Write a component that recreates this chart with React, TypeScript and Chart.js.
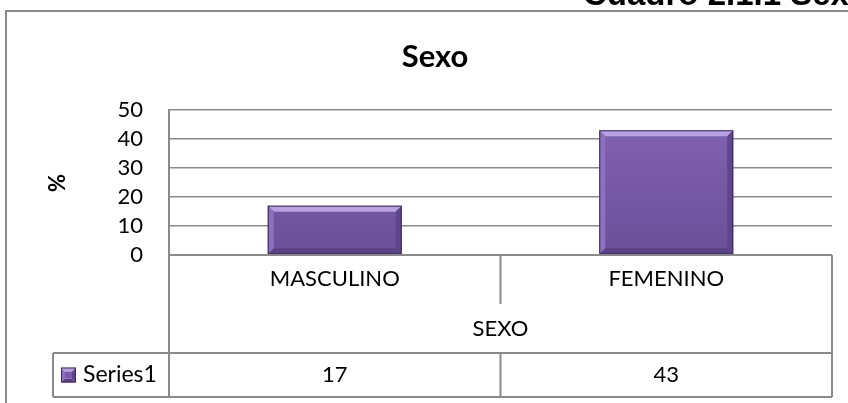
import React, { useEffect, useRef } from "react";
import { Chart, registerables } from "chart.js";

Chart.register(...registerables);

// ---- data ----
const categories = ["MASCULINO", "FEMENINO"];
const seriesName = "Series1";
const seriesValues = [17, 43];
const groupLabel = "SEXO";
const chartTitle = "Sexo";
const pageHeading = "Cuadro 2.1.1 Sexo";
const yAxisTitle = "%";
const yTickMin = 0;
const yTickMax = 50;
const yTickStep = 10;

// ---- styles ----
const FONT = "Lato, 'Open Sans', sans-serif";
const HEAD_FONT = "'Liberation Sans', Arial, sans-serif";
const LINE = "#8a8a8a";
const TEXT = "#000000";

function bevelRect(ctx: CanvasRenderingContext2D, l: number, t: number, r: number, b: number, d: number) {
  const poly = (pts: number[][], color: string) => {
    ctx.beginPath();
    ctx.moveTo(pts[0][0], pts[0][1]);
    for (let i = 1; i < pts.length; i++) ctx.lineTo(pts[i][0], pts[i][1]);
    ctx.closePath();
    ctx.fillStyle = color;
    ctx.fill();
  };
  const dd = Math.min(d, (r - l) / 2, (b - t) / 2);
  poly([[l, t], [r, t], [r - dd, t + dd], [l + dd, t + dd]], "#b9a2e4");
  poly([[l, t], [l + dd, t + dd], [l + dd, b - dd], [l, b]], "#8e70c0");
  poly([[r, t], [r, b], [r - dd, b - dd], [r - dd, t + dd]], "#5f468c");
  poly([[l, b], [l + dd, b - dd], [r - dd, b - dd], [r, b]], "#5a4284");
  ctx.strokeStyle = "#3e2b5e";
  ctx.lineWidth = 1;
  ctx.strokeRect(l + 0.5, t + 0.5, r - l - 1, b - t - 1);
}

const decorPlugin = {
  id: "decor",
  beforeDraw(chart: any) {
    const ctx: CanvasRenderingContext2D = chart.ctx;
    ctx.save();
    ctx.fillStyle = "#ffffff";
    ctx.fillRect(0, 0, chart.width, chart.height);
    // outer chart frame
    ctx.strokeStyle = LINE;
    ctx.lineWidth = 2;
    ctx.strokeRect(6, 11, chart.width + 40, chart.height + 40);
    // page heading (cut off at top)
    ctx.fillStyle = TEXT;
    ctx.font = `bold 33px ${HEAD_FONT}`;
    ctx.textAlign = "left";
    ctx.textBaseline = "alphabetic";
    ctx.fillText(pageHeading, 583, 5);
    // chart title
    ctx.font = `bold 31px ${FONT}`;
    ctx.textAlign = "center";
    ctx.textBaseline = "middle";
    ctx.fillText(chartTitle, 435, 57);
    // y axis title
    ctx.save();
    ctx.translate(58, 183);
    ctx.rotate(-Math.PI / 2);
    ctx.font = `bold 22px ${FONT}`;
    ctx.fillText(yAxisTitle, 0, 0);
    ctx.restore();
    ctx.restore();
  },
  afterDatasetsDraw(chart: any) {
    const ctx: CanvasRenderingContext2D = chart.ctx;
    const meta = chart.getDatasetMeta(0);
    ctx.save();
    meta.data.forEach((bar: any) => {
      const p = bar.getProps(["x", "y", "base", "width"], true);
      const l = p.x - p.width / 2;
      const r = p.x + p.width / 2;
      bevelRect(ctx, l, p.y, r, p.base, 6);
    });
    ctx.restore();
  },
  afterDraw(chart: any) {
    const ctx: CanvasRenderingContext2D = chart.ctx;
    const { left, right, bottom } = chart.chartArea;
    const xs = chart.scales.x;
    const n = categories.length;
    const catW = (right - left) / n;
    const labelY = bottom + 24;
    const dividerEnd = bottom + 49;
    const groupY = bottom + 74;
    const sepY = bottom + 98;
    const tableBottom = bottom + 142;
    const legendLeft = 53;
    const valueY = (sepY + tableBottom) / 2;

    ctx.save();
    ctx.strokeStyle = LINE;
    ctx.lineWidth = 2;
    const line = (x1: number, y1: number, x2: number, y2: number) => {
      ctx.beginPath();
      ctx.moveTo(x1, y1);
      ctx.lineTo(x2, y2);
      ctx.stroke();
    };
    line(left, bottom, right, bottom);
    line(left, bottom, left, tableBottom);
    line(right, bottom, right, tableBottom);
    for (let i = 1; i < n; i++) {
      const bx = left + i * catW;
      line(bx, bottom, bx, dividerEnd);
      line(bx, sepY, bx, tableBottom);
    }
    line(legendLeft, sepY, right, sepY);
    line(legendLeft, tableBottom, right, tableBottom);
    line(legendLeft, sepY, legendLeft, tableBottom);

    ctx.fillStyle = TEXT;
    ctx.font = `22px ${FONT}`;
    ctx.textAlign = "center";
    ctx.textBaseline = "middle";
    categories.forEach((c, i) => {
      const cx = xs.getPixelForValue(i);
      ctx.fillText(c, cx, labelY);
      ctx.fillText(String(seriesValues[i]), cx, valueY);
    });
    ctx.fillText(groupLabel, (left + right) / 2, groupY);

    // legend key + series name
    const ks = 15;
    const kx = legendLeft + 8;
    const ky = valueY - ks / 2;
    bevelRect(ctx, kx, ky, kx + ks, ky + ks, 4);
    ctx.fillStyle = "#7a5ba8";
    ctx.fillRect(kx + 4, ky + 4, ks - 8, ks - 8);
    ctx.fillStyle = TEXT;
    ctx.textAlign = "left";
    ctx.font = `23px ${FONT}`;
    ctx.fillText(seriesName, kx + ks + 7, valueY);
    ctx.restore();
  },
};

export default function App() {
  const canvasRef = useRef<HTMLCanvasElement | null>(null);

  useEffect(() => {
    const canvas = canvasRef.current;
    if (!canvas) return;
    const chart = new Chart(canvas, {
      type: "bar",
      data: {
        labels: categories,
        datasets: [
          {
            label: seriesName,
            data: seriesValues,
            backgroundColor: (c: any) => {
              const area = c.chart.chartArea;
              if (!area) return "#7a5ba8";
              const g = c.chart.ctx.createLinearGradient(0, area.top, 0, area.bottom);
              g.addColorStop(0, "#8364b3");
              g.addColorStop(1, "#6b4f98");
              return g;
            },
            borderWidth: 0,
            categoryPercentage: 1,
            barPercentage: 0.404,
          },
        ],
      },
      options: {
        responsive: false,
        animation: false,
        devicePixelRatio: 1,
        layout: { padding: { left: 0, top: 110, right: 16, bottom: 148 } },
        plugins: {
          legend: { display: false },
          title: { display: false },
          tooltip: { enabled: false },
        },
        scales: {
          x: { display: false },
          y: {
            position: "left",
            min: yTickMin,
            max: yTickMax,
            ticks: {
              stepSize: yTickStep,
              autoSkip: false,
              padding: 26,
              color: TEXT,
              font: { family: FONT, size: 22 },
            },
            grid: { color: LINE, lineWidth: 1.5, drawTicks: false },
            border: { display: true, color: LINE, width: 2 },
            afterFit: (scale: any) => {
              scale.width = 169;
            },
          },
        },
      },
      plugins: [decorPlugin],
    });
    return () => chart.destroy();
  }, []);

  return (
    <div style={{ position: "fixed", left: 0, top: 0, width: 848, height: 403, background: "#fff" }}>
      <canvas ref={canvasRef} width={848} height={403} />
    </div>
  );
}
